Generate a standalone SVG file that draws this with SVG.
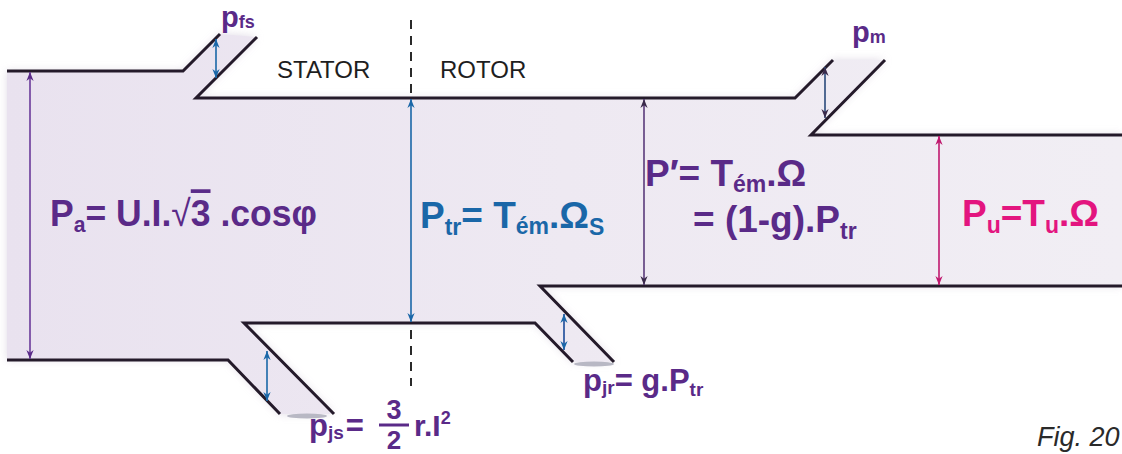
<svg xmlns="http://www.w3.org/2000/svg" width="1122" height="454" viewBox="0 0 1122 454">
<defs>
<style>
.ln{fill:none;stroke:#241a2a;stroke-width:3;stroke-linejoin:miter}
.f{font-family:"Liberation Sans",Arial,sans-serif;font-weight:bold}
.pur{fill:#5a2a88}
.blu{fill:#1a67a8}
.mag{fill:#e3157f}
.lbl{font-family:"Liberation Sans",Arial,sans-serif;font-size:24px;fill:#1e1e1e}
</style>
<linearGradient id="bg" x1="0" y1="0" x2="1" y2="0">
<stop offset="0" stop-color="#e9e2ef"/>
<stop offset="0.5" stop-color="#eee9f2"/>
<stop offset="1" stop-color="#f1eef4"/>
</linearGradient>
<filter id="sh" x="-5%" y="-10%" width="110%" height="120%"><feGaussianBlur stdDeviation="4"/></filter>
<marker id="ap" viewBox="0 0 10 10" refX="10" refY="5" markerWidth="9" markerHeight="9" orient="auto-start-reverse" markerUnits="userSpaceOnUse"><path d="M0,1 L10,5 L0,9 L3,5 Z" fill="#5a2a88"/></marker>
<marker id="ab" viewBox="0 0 10 10" refX="10" refY="5" markerWidth="9" markerHeight="9" orient="auto-start-reverse" markerUnits="userSpaceOnUse"><path d="M0,1 L10,5 L0,9 L3,5 Z" fill="#1a67a8"/></marker>
<marker id="ak" viewBox="0 0 10 10" refX="10" refY="5" markerWidth="9" markerHeight="9" orient="auto-start-reverse" markerUnits="userSpaceOnUse"><path d="M0,1 L10,5 L0,9 L3,5 Z" fill="#3a2a4a"/></marker>
<marker id="am" viewBox="0 0 10 10" refX="10" refY="5" markerWidth="9" markerHeight="9" orient="auto-start-reverse" markerUnits="userSpaceOnUse"><path d="M0,1 L10,5 L0,9 L3,5 Z" fill="#c0186e"/></marker>
</defs>
<rect width="1122" height="454" fill="#ffffff"/>
<g id="body">
<path d="M7,71 L183,71 L220,34 L257,37 L196,98 L795,98 L833,60 L885,60 L811,135 L1122,135 L1122,286 L540,286 L614,362 L573,362 L535,323 L244,323 L334,414 L280,414 L228,360 L7,360 Z" fill="#d8d0de" filter="url(#sh)" opacity="0.8"/>
<path d="M7,71 L183,71 L220,34 L257,37 L196,98 L795,98 L833,60 L885,60 L811,135 L1122,135 L1122,286 L540,286 L614,362 L573,362 L535,323 L244,323 L334,414 L280,414 L228,360 L7,360 Z" fill="url(#bg)"/>
<ellipse cx="307" cy="416" rx="20" ry="2.5" fill="#b8b8c4"/>
<ellipse cx="594" cy="364" rx="20" ry="2.5" fill="#b8b8c4"/>
</g>
<g id="outline">
<path class="ln" d="M7,71 L183,71 L220,34"/>
<path class="ln" d="M257,37 L196,98 L795,98 L833,60"/>
<path class="ln" d="M885,60 L811,135 L1122,135"/>
<path class="ln" d="M7,360 L228,360 L280,414"/>
<path class="ln" d="M334,414 L244,323 L535,323 L573,362"/>
<path class="ln" d="M614,362 L540,286 L1122,286"/>
<line x1="411" y1="20" x2="411" y2="96" stroke="#2a2a2a" stroke-width="2" stroke-dasharray="9,7"/>
<line x1="411" y1="330" x2="411" y2="386" stroke="#2a2a2a" stroke-width="2" stroke-dasharray="9,7"/>
</g>
<g id="connectors">
<line x1="30" y1="72" x2="30" y2="359" stroke="#6a3a9a" stroke-width="1.6" marker-start="url(#ap)" marker-end="url(#ap)"/>
<line x1="411" y1="99" x2="411" y2="322" stroke="#1a67a8" stroke-width="1.6" marker-start="url(#ab)" marker-end="url(#ab)"/>
<line x1="644" y1="99" x2="644" y2="285" stroke="#5a3a7a" stroke-width="1.6" marker-start="url(#ak)" marker-end="url(#ak)"/>
<line x1="939" y1="136" x2="939" y2="285" stroke="#c0186e" stroke-width="1.6" marker-start="url(#am)" marker-end="url(#am)"/>
<line x1="216" y1="39" x2="216" y2="78" stroke="#1a67a8" stroke-width="1.6" marker-start="url(#ab)" marker-end="url(#ab)"/>
<line x1="825" y1="67" x2="825" y2="118" stroke="#2a4a7a" stroke-width="1.6" marker-start="url(#ak)" marker-end="url(#ak)"/>
<line x1="267" y1="351" x2="267" y2="401" stroke="#1a67a8" stroke-width="1.6" marker-start="url(#ab)" marker-end="url(#ab)"/>
<line x1="564" y1="314" x2="564" y2="350" stroke="#1a4a98" stroke-width="1.6" marker-start="url(#ab)" marker-end="url(#ab)"/>
</g>
<g id="labels">
<text class="lbl" x="277" y="78">STATOR</text>
<text class="lbl" x="440" y="78">ROTOR</text>
<text class="f pur" font-size="29" x="221" y="27">p<tspan font-size="18" dy="1">fs</tspan></text>
<text class="f pur" font-size="29" x="852" y="42">p<tspan font-size="18" dy="1">m</tspan></text>
</g>
<g id="Pa">
<g transform="translate(50,226) scale(0.96,1)">
<text class="f pur" font-size="37" x="0" y="0">P<tspan font-size="22" dy="6">a</tspan><tspan dy="-6">= U.I.</tspan><tspan font-weight="normal">√</tspan><tspan text-decoration="overline">3</tspan> .cosφ</text>
</g>
</g>
<g id="Ptr">
<g transform="translate(420,228)">
<text class="f blu" font-size="37" x="0" y="0">P<tspan font-size="23" dy="7">tr</tspan><tspan dy="-7">= T</tspan><tspan font-size="23" dy="6">ém</tspan><tspan dy="-6">.Ω</tspan><tspan font-size="23" dy="7">S</tspan></text>
</g>
</g>
<g id="Pprime">
<g transform="translate(645,186)">
<text class="f pur" font-size="37" x="0" y="0">P′= T<tspan font-size="23" dy="6">ém</tspan><tspan dy="-6">.Ω</tspan></text>
</g>
<g transform="translate(693,232)">
<text class="f pur" font-size="37" x="0" y="0">= (1-g).P<tspan font-size="23" dy="7">tr</tspan></text>
</g>
</g>
<g id="Pu">
<g transform="translate(962,226)">
<text class="f mag" font-size="37" x="0" y="0">P<tspan font-size="23" dy="7">u</tspan><tspan dy="-7">=T</tspan><tspan font-size="23" dy="7">u</tspan><tspan dy="-7">.Ω</tspan></text>
</g>
</g>
<g id="pjs">
<text class="f pur" font-size="31" x="309" y="436">p<tspan font-size="19" dy="3">js</tspan><tspan dy="-3" dx="2">=</tspan></text>
<text class="f pur" font-size="27" x="394" y="419" text-anchor="middle">3</text>
<text class="f pur" font-size="26" x="394" y="449" text-anchor="middle">2</text>
<line x1="379" y1="425" x2="409" y2="425" stroke="#5a2a88" stroke-width="3"/>
<text class="f pur" font-size="30" x="414" y="436">r.I<tspan font-size="18" dy="-12">2</tspan></text>
</g>
<g id="pjr">
<text class="f pur" font-size="31" x="583" y="391">p<tspan font-size="19" dy="3">jr</tspan><tspan dy="-3">= g.P</tspan><tspan font-size="19" dy="5">tr</tspan></text>
</g>
<text x="1037" y="446" font-family="Liberation Sans,Arial,sans-serif" font-style="italic" font-size="27" fill="#2a2a2a">Fig. 20</text>
</svg>
